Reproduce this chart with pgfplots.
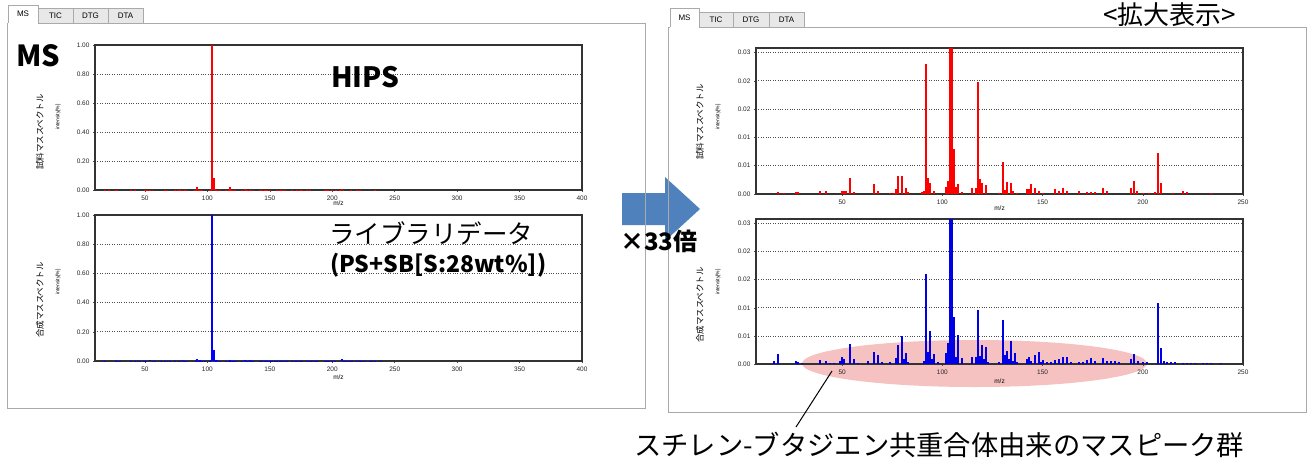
\documentclass[border=0pt]{standalone}
\usepackage{fontspec}
\setmainfont{Liberation Sans}
\newfontfamily\jp{Noto Sans CJK JP}
\usepackage{pgfplots}
\usepackage{pgfplotstable}
\pgfplotsset{compat=1.18}

\pgfplotstableread{
mz val
18 0.0004
21 0.0002
27 0.0003
28 0.0003
39 0.0006
42 0.0005
50 0.0005
51 0.0006
52 0.0006
54 0.0028
56 0.0003
66 0.0018
68 0.0006
74 0.0002
76 0.0002
77 0.0009
78 0.0031
80 0.0031
82 0.0011
83 0.0003
90 0.0003
91 0.0005
92 0.0229
93 0.0028
94 0.0020
96 0.0006
102 0.0012
103 0.0023
104 1.0
105 0.08
106 0.0080
107 0.0013
108 0.0018
110 0.0003
115 0.0010
117 0.0010
118 0.0198
119 0.0026
120 0.0019
122 0.0016
128 0.0002
130 0.0056
131 0.0007
132 0.0021
134 0.0020
135 0.0005
137 0.0002
142 0.0009
143 0.0008
144 0.0018
146 0.0010
148 0.0006
150 0.0002
156 0.0009
158 0.0006
160 0.0011
162 0.0006
168 0.0005
172 0.0003
174 0.0003
176 0.0003
180 0.0010
182 0.0005
194 0.0010
195.5 0.0023
197 0.0005
200 0.0002
203 0.0002
206 0.0003
207.5 0.0073
209 0.0020
215 0.0002
220 0.0006
222 0.0003
234 0.0002
}\sample

\pgfplotstableread{
mz val
16 0.0005
18 0.0017
27 0.0005
28 0.0004
30 0.0002
39 0.0007
42 0.0005
44 0.0002
46 0.0002
49 0.0006
50 0.0013
51 0.0009
54 0.0035
56 0.0009
58 0.0002
63 0.0006
66 0.0022
68 0.0016
70 0.0004
74 0.0003
77 0.0010
78 0.0034
80 0.0050
81 0.0009
82 0.0020
83 0.0004
91 0.0006
92 0.0161
93 0.0022
94 0.0058
95 0.0009
96 0.0017
98 0.0003
102 0.0019
103 0.0037
104 1.0
105 0.075
106 0.0083
107 0.0012
108 0.0051
110 0.0011
115 0.0013
117 0.0012
118 0.0096
119 0.0015
120 0.0033
121 0.0009
122 0.0031
123 0.0004
128 0.0003
130 0.0079
131 0.0016
132 0.0023
133 0.0009
134 0.0041
135 0.0006
136 0.0019
137 0.0003
142 0.0009
143 0.0013
144 0.0006
146 0.0016
148 0.0021
149 0.0004
150 0.0007
152 0.0003
154 0.0003
156 0.0007
158 0.0009
160 0.0012
162 0.0013
164 0.0004
168 0.0004
170 0.0004
172 0.0007
174 0.0011
176 0.0006
180 0.0010
182 0.0005
184 0.0005
186 0.0005
188 0.0004
194 0.0009
195.5 0.0018
197.5 0.0005
200 0.0004
202 0.0004
207.5 0.0108
209 0.0028
210.5 0.0005
212 0.0003
214 0.0003
216 0.0004
220 0.0002
222 0.0002
224 0.0002
226 0.0002
230 0.0002
232 0.0002
234 0.0002
239 0.0002
}\library

\definecolor{arrowblue}{RGB}{79,129,189}
\definecolor{panelgray}{RGB}{170,170,170}
\definecolor{tabgray}{RGB}{232,232,232}
\definecolor{ellpink}{RGB}{245,193,193}

\pgfplotsset{
  msaxis/.style={
    scale only axis, anchor=south west,
    axis line style={black!80, line width=1.1pt},
    ymajorgrids,
    major grid style={black!70, dotted, line width=0.8pt},
    tick style={black!70, line width=0.5pt},
    major tick length=2pt,
    tick align=outside,
    tick pos=left,
    ticklabel style={font=\fontsize{6.5}{6.5}\selectfont, text=black!85},
    /pgf/number format/assume math mode=true,
    scaled y ticks=false,
    ymin=0,
  },
  leftaxis/.style={msaxis, width=487pt, xmin=10, xmax=400,
    xtick={50,100,150,200,250,300,350,400},
    ymax=1, ytick={0,0.2,0.4,0.6,0.8,1},
    yticklabel style={/pgf/number format/.cd, fixed, fixed zerofill, precision=2},
  },
  rightaxis/.style={msaxis, width=487pt, xmin=7, xmax=250,
    xtick={50,100,150,200,250},
    ymax=0.0258, ytick={0,0.005,0.01,0.015,0.02,0.025},
    yticklabels={0.00,0.01,0.01,0.02,0.02,0.03},
  },
}

\begin{document}
\begin{tikzpicture}
\useasboundingbox (0pt,0pt) rectangle (1313pt,-472pt);
\fill[white] (0pt,0pt) rectangle (1313pt,-472pt);

% panels background
\fill[white] (7pt,-23pt) rectangle (645pt,-408pt);
\fill[white] (668pt,-27pt) rectangle (1306pt,-412pt);

% tabs
\begin{scope}[font=\fontsize{8}{8}\selectfont]
\filldraw[fill=tabgray, draw=panelgray] (38pt,-8pt) rectangle (73pt,-23pt);
\node at (55.5pt,-16pt) {TIC};
\filldraw[fill=tabgray, draw=panelgray] (73pt,-8pt) rectangle (108pt,-23pt);
\node at (90.5pt,-16pt) {DTG};
\filldraw[fill=tabgray, draw=panelgray] (108pt,-8pt) rectangle (143pt,-23pt);
\node at (125.5pt,-16pt) {DTA};
\filldraw[fill=white, draw=panelgray] (8pt,-23pt) -- (8pt,-5pt) -- (38pt,-5pt) -- (38pt,-23pt);
\node at (23pt,-14pt) {MS};
\filldraw[fill=tabgray, draw=panelgray] (699pt,-12pt) rectangle (733pt,-27pt);
\node at (716pt,-20pt) {TIC};
\filldraw[fill=tabgray, draw=panelgray] (733pt,-12pt) rectangle (769pt,-27pt);
\node at (751pt,-20pt) {DTG};
\filldraw[fill=tabgray, draw=panelgray] (769pt,-12pt) rectangle (804pt,-27pt);
\node at (786.5pt,-20pt) {DTA};
\filldraw[fill=white, draw=panelgray] (670pt,-27pt) -- (670pt,-8pt) -- (699pt,-8pt) -- (699pt,-27pt);
\node at (684.5pt,-18pt) {MS};
\end{scope}

% ellipse highlight (behind the bars)
\fill[ellpink] (974.5pt,-363.5pt) ellipse [x radius=172.5pt, y radius=23.5pt];

% left top axis
\begin{axis}[leftaxis, at={(95pt,-190pt)}, height=145pt]
\addplot[ycomb, red, line width=1.8pt] table[x=mz, y=val] {\sample};
\end{axis}
% left bottom axis
\begin{axis}[leftaxis, at={(95pt,-361pt)}, height=146pt]
\addplot[ycomb, blue, line width=1.8pt] table[x=mz, y=val] {\library};
\end{axis}
% right top axis
\begin{axis}[rightaxis, at={(756pt,-194pt)}, height=146pt]
\addplot[ycomb, red, line width=2pt] table[x=mz, y=val] {\sample};
\end{axis}
% right bottom axis
\begin{axis}[rightaxis, at={(756pt,-364pt)}, height=145pt]
\addplot[ycomb, blue!90!black, line width=2pt] table[x=mz, y=val] {\library};
\end{axis}

% axis labels
\begin{scope}[font=\fontsize{6.5}{6.5}\selectfont]
\node at (338.5pt,-203pt) {m/z};
\node at (338.5pt,-377pt) {m/z};
\node at (999.5pt,-208pt) {m/z};
\node at (999.5pt,-381pt) {m/z};
\end{scope}
\begin{scope}[font=\fontsize{5}{5}\selectfont]
\node[rotate=90] at (58pt,-117pt) {intensity[\%]};
\node[rotate=90] at (58pt,-282pt) {intensity[\%]};
\node[rotate=90] at (718pt,-117pt) {intensity[\%]};
\node[rotate=90] at (718pt,-282pt) {intensity[\%]};
\end{scope}
\begin{scope}[font=\jp\fontsize{8.5}{8.5}\selectfont]
\node[rotate=90] at (40pt,-132pt) {試料マススペクトル};
\node[rotate=90] at (40pt,-300pt) {合成マススペクトル};
\node[rotate=90] at (700pt,-122pt) {試料マススペクトル};
\node[rotate=90] at (700pt,-305pt) {合成マススペクトル};
\end{scope}

% arrow
\fill[arrowblue] (622pt,-193pt) -- (665pt,-193pt) -- (665pt,-177pt) -- (700pt,-209pt) -- (665pt,-241pt) -- (665pt,-225pt) -- (622pt,-225pt) -- cycle;

% panel borders
\draw[panelgray, line width=0.8pt] (38pt,-23pt) -- (645pt,-23pt) -- (645pt,-408pt) -- (7pt,-408pt) -- (7pt,-23pt) -- (8pt,-23pt);
\draw[panelgray, line width=0.8pt] (699pt,-27pt) -- (1306pt,-27pt) -- (1306pt,-412pt) -- (668pt,-412pt) -- (668pt,-27pt) -- (670pt,-27pt);

% leader line
\draw[black, line width=1pt] (832pt,-371pt) -- (796pt,-427pt);

% big texts
\node[anchor=base west, inner sep=0pt, font=\jp\bfseries\fontsize{29}{29}\selectfont] at (16pt,-66pt) {MS};
\node[anchor=base west, inner sep=0pt, font=\jp\bfseries\fontsize{28}{28}\selectfont] at (331pt,-87pt) {HIPS};
\node[anchor=base west, inner sep=0pt, font=\jp\fontsize{25.5}{25.5}\selectfont] at (329pt,-243pt) {ライブラリデータ};
\node[anchor=base west, inner sep=0pt, font=\jp\bfseries\fontsize{23}{23}\selectfont] at (330pt,-272pt) {(PS+SB[S:28wt\%])};
\node[anchor=base west, inner sep=0pt, font=\jp\bfseries\fontsize{24}{24}\selectfont] at (620pt,-250pt) {×33倍};
\node[anchor=base west, inner sep=0pt, font=\jp\fontsize{26}{26}\selectfont] at (1103pt,-24.5pt) {<拡大表示>};
\node[anchor=base west, inner sep=0pt, font=\jp\fontsize{27.3}{27.3}\selectfont] at (634pt,-455pt) {スチレン-ブタジエン共重合体由来のマスピーク群};
\end{tikzpicture}
\end{document}
